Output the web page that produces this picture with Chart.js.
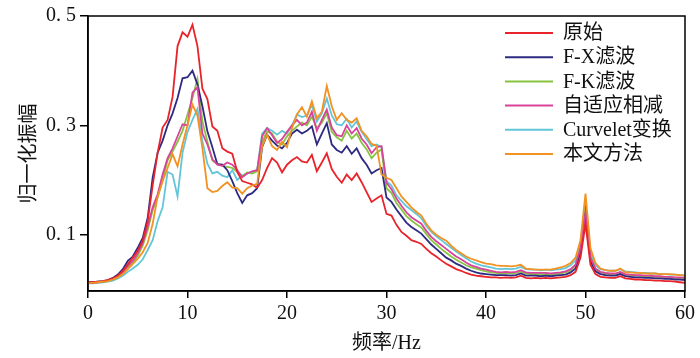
<!DOCTYPE html>
<html>
<head>
  <meta charset="utf-8">
  <title>归一化振幅谱</title>
  <script src="https://cdn.jsdelivr.net/npm/chart.js"></script>
  <style>
    body { margin: 0; background: #fff; }
    #wrap { width: 700px; height: 358px; }
  </style>
</head>
<body>

<div id="wrap"><canvas id="spec"></canvas></div>

<script>
  // frequency axis (Hz)
  const freq = [
    0, 0.5, 1, 1.5, 2, 2.5, 3, 3.5, 4, 4.5, 5, 5.5, 6, 6.5, 7, 7.5, 8, 8.5, 9, 9.5,
    10, 10.5, 11, 11.5, 12, 12.5, 13, 13.5, 14, 14.5, 15, 15.5, 16, 16.5, 17, 17.5, 18, 18.5, 19, 19.5,
    20, 20.5, 21, 21.5, 22, 22.5, 23, 23.5, 24, 24.5, 25, 25.5, 26, 26.5, 27, 27.5, 28, 28.5, 29, 29.5,
    30, 30.5, 31, 31.5, 32, 32.5, 33, 33.5, 34, 34.5, 35, 35.5, 36, 36.5, 37, 37.5, 38, 38.5, 39, 39.5,
    40, 40.5, 41, 41.5, 42, 42.5, 43, 43.5, 44, 44.5, 45, 45.5, 46, 46.5, 47, 47.5, 48, 48.5, 49, 49.5,
    50, 50.5, 51, 51.5, 52, 52.5, 53, 53.5, 54, 54.5, 55, 55.5, 56, 56.5, 57, 57.5, 58, 58.5, 59, 59.5,
    60
  ];

  const seriesNames = ['原始', 'F-X滤波', 'F-K滤波', '自适应相减', 'Curvelet变换', '本文方法'];

  const raw = [
    0.013, 0.013, 0.014, 0.015, 0.017, 0.020, 0.025, 0.034, 0.046, 0.058, 0.071, 0.089, 0.125, 0.190, 0.250, 0.296, 0.310, 0.352, 0.445, 0.470,
    0.462, 0.484, 0.445, 0.367, 0.348, 0.298, 0.290, 0.258, 0.252, 0.248, 0.215, 0.198, 0.195, 0.192, 0.186, 0.200, 0.222, 0.240, 0.232, 0.214,
    0.228, 0.236, 0.242, 0.234, 0.232, 0.246, 0.216, 0.232, 0.249, 0.220, 0.206, 0.195, 0.210, 0.200, 0.212, 0.196, 0.178, 0.160, 0.166, 0.172,
    0.138, 0.135, 0.118, 0.105, 0.098, 0.090, 0.087, 0.083, 0.074, 0.066, 0.060, 0.053, 0.047, 0.042, 0.037, 0.034, 0.030, 0.027, 0.025, 0.024,
    0.023, 0.022, 0.022, 0.021, 0.022, 0.021, 0.022, 0.025, 0.021, 0.020, 0.021, 0.020, 0.021, 0.020, 0.021, 0.022, 0.023, 0.026, 0.032, 0.058,
    0.120, 0.045, 0.028, 0.023, 0.022, 0.021, 0.021, 0.024, 0.020, 0.019, 0.018, 0.018, 0.017, 0.017, 0.016, 0.016, 0.015, 0.015, 0.014, 0.013,
    0.012
  ];

  const fx = [
    0.013, 0.013, 0.014, 0.015, 0.017, 0.021, 0.027, 0.037, 0.052, 0.060, 0.076, 0.094, 0.131, 0.205, 0.250, 0.272, 0.300, 0.322, 0.350, 0.386,
    0.388, 0.400, 0.375, 0.335, 0.289, 0.260, 0.229, 0.228, 0.218, 0.198, 0.176, 0.158, 0.172, 0.176, 0.185, 0.260, 0.283, 0.272, 0.263, 0.258,
    0.268, 0.285, 0.292, 0.285, 0.290, 0.298, 0.265, 0.285, 0.304, 0.265, 0.255, 0.250, 0.262, 0.248, 0.258, 0.240, 0.228, 0.212, 0.218, 0.222,
    0.168, 0.160, 0.146, 0.134, 0.122, 0.114, 0.108, 0.102, 0.092, 0.082, 0.074, 0.066, 0.058, 0.053, 0.047, 0.043, 0.038, 0.034, 0.031, 0.029,
    0.028, 0.027, 0.026, 0.026, 0.026, 0.025, 0.026, 0.029, 0.025, 0.025, 0.025, 0.024, 0.025, 0.024, 0.025, 0.026, 0.027, 0.031, 0.038, 0.068,
    0.140, 0.052, 0.033, 0.028, 0.026, 0.025, 0.025, 0.028, 0.024, 0.023, 0.022, 0.022, 0.021, 0.021, 0.020, 0.020, 0.019, 0.019, 0.018, 0.018,
    0.017
  ];

  const fk = [
    0.012, 0.012, 0.013, 0.014, 0.015, 0.018, 0.023, 0.030, 0.040, 0.048, 0.062, 0.080, 0.108, 0.145, 0.168, 0.200, 0.236, 0.252, 0.270, 0.290,
    0.320, 0.350, 0.385, 0.307, 0.270, 0.236, 0.230, 0.226, 0.224, 0.222, 0.215, 0.207, 0.214, 0.212, 0.216, 0.270, 0.289, 0.285, 0.270, 0.265,
    0.280, 0.290, 0.298, 0.305, 0.300, 0.316, 0.295, 0.305, 0.322, 0.288, 0.278, 0.272, 0.290, 0.276, 0.285, 0.268, 0.256, 0.240, 0.250, 0.256,
    0.185, 0.176, 0.158, 0.146, 0.134, 0.126, 0.119, 0.113, 0.101, 0.090, 0.082, 0.074, 0.067, 0.060, 0.054, 0.049, 0.044, 0.040, 0.038, 0.035,
    0.033, 0.031, 0.030, 0.029, 0.030, 0.029, 0.030, 0.033, 0.029, 0.028, 0.028, 0.028, 0.028, 0.027, 0.028, 0.029, 0.031, 0.035, 0.044, 0.078,
    0.155, 0.060, 0.037, 0.031, 0.029, 0.028, 0.028, 0.031, 0.027, 0.026, 0.025, 0.025, 0.024, 0.024, 0.023, 0.023, 0.022, 0.022, 0.021, 0.021,
    0.020
  ];

  const adaptive = [
    0.012, 0.012, 0.013, 0.014, 0.016, 0.019, 0.024, 0.032, 0.043, 0.052, 0.066, 0.085, 0.115, 0.150, 0.174, 0.210, 0.240, 0.258, 0.280, 0.302,
    0.300, 0.360, 0.370, 0.285, 0.265, 0.238, 0.228, 0.226, 0.232, 0.228, 0.218, 0.205, 0.212, 0.216, 0.218, 0.280, 0.295, 0.282, 0.268, 0.275,
    0.288, 0.300, 0.310, 0.300, 0.305, 0.325, 0.290, 0.310, 0.329, 0.296, 0.282, 0.280, 0.300, 0.285, 0.295, 0.276, 0.265, 0.249, 0.260, 0.262,
    0.195, 0.183, 0.166, 0.153, 0.141, 0.132, 0.126, 0.120, 0.107, 0.096, 0.088, 0.081, 0.074, 0.067, 0.060, 0.055, 0.049, 0.044, 0.041, 0.038,
    0.036, 0.034, 0.032, 0.031, 0.032, 0.031, 0.032, 0.035, 0.031, 0.030, 0.030, 0.030, 0.030, 0.029, 0.030, 0.031, 0.033, 0.037, 0.045, 0.075,
    0.140, 0.058, 0.038, 0.032, 0.030, 0.029, 0.029, 0.032, 0.028, 0.027, 0.026, 0.026, 0.025, 0.025, 0.024, 0.024, 0.023, 0.023, 0.022, 0.022,
    0.021
  ];

  const curvelet = [
    0.011, 0.011, 0.012, 0.013, 0.014, 0.016, 0.020, 0.025, 0.032, 0.038, 0.045, 0.055, 0.072, 0.090, 0.125, 0.150, 0.215, 0.210, 0.170, 0.250,
    0.288, 0.310, 0.330, 0.271, 0.230, 0.212, 0.215, 0.208, 0.205, 0.218, 0.200, 0.208, 0.212, 0.215, 0.218, 0.285, 0.295, 0.290, 0.283, 0.290,
    0.285, 0.300, 0.320, 0.315, 0.318, 0.338, 0.307, 0.322, 0.349, 0.318, 0.302, 0.300, 0.312, 0.296, 0.307, 0.288, 0.275, 0.262, 0.265, 0.260,
    0.198, 0.190, 0.172, 0.162, 0.152, 0.145, 0.138, 0.130, 0.116, 0.105, 0.097, 0.090, 0.083, 0.076, 0.069, 0.063, 0.057, 0.051, 0.047, 0.044,
    0.042, 0.040, 0.038, 0.037, 0.038, 0.037, 0.038, 0.041, 0.037, 0.036, 0.036, 0.035, 0.036, 0.035, 0.036, 0.037, 0.039, 0.044, 0.053, 0.085,
    0.160, 0.068, 0.044, 0.037, 0.035, 0.034, 0.034, 0.037, 0.033, 0.032, 0.031, 0.030, 0.030, 0.029, 0.029, 0.028, 0.028, 0.027, 0.027, 0.026,
    0.025
  ];

  const proposed = [
    0.012, 0.012, 0.013, 0.014, 0.015, 0.018, 0.022, 0.028, 0.037, 0.046, 0.056, 0.068, 0.085, 0.120, 0.170, 0.198, 0.222, 0.247, 0.225, 0.265,
    0.300, 0.338, 0.318, 0.258, 0.185, 0.178, 0.180, 0.189, 0.196, 0.186, 0.185, 0.175, 0.185, 0.190, 0.193, 0.262, 0.283, 0.262, 0.255, 0.270,
    0.260, 0.295, 0.320, 0.333, 0.316, 0.344, 0.313, 0.325, 0.372, 0.335, 0.310, 0.322, 0.310, 0.305, 0.313, 0.290, 0.280, 0.266, 0.263, 0.210,
    0.204, 0.200, 0.185, 0.170, 0.160, 0.150, 0.142, 0.135, 0.120, 0.108, 0.100, 0.094, 0.089, 0.080, 0.072, 0.066, 0.060, 0.056, 0.053, 0.050,
    0.047, 0.046, 0.044, 0.043, 0.043, 0.042, 0.043, 0.045, 0.038, 0.037, 0.036, 0.036, 0.036, 0.036, 0.038, 0.040, 0.043, 0.048, 0.058, 0.090,
    0.175, 0.075, 0.048, 0.038, 0.035, 0.034, 0.034, 0.038, 0.031, 0.031, 0.030, 0.030, 0.029, 0.029, 0.029, 0.028, 0.028, 0.028, 0.027, 0.026,
    0.025
  ];

  const yTickValues = [0.1, 0.3, 0.5];
  const yTickLabels = ['0. 1', '0. 3', '0. 5'];

  const colors = ['#e8232a', '#2e2a82', '#86c441', '#d8449a', '#62c6d8', '#f29222'];
  const allSeries = [raw, fx, fk, adaptive, curvelet, proposed];
  // draw order: orange on top, curvelet at the back
  const drawOrder = [1, 3, 4, 2, 5, 0];

  const serif = '"Liberation Serif", "Noto Sans CJK SC", serif';

  const frameAndLegend = {
    id: 'frameAndLegend',
    afterDraw(chart) {
      const { ctx, chartArea: a } = chart;
      ctx.save();
      ctx.strokeStyle = '#000';
      ctx.lineWidth = 1.5;
      ctx.strokeRect(a.left, a.top, a.right - a.left, a.bottom - a.top);

      ctx.font = '20px ' + serif;
      ctx.textBaseline = 'middle';
      ctx.fillStyle = '#111';
      seriesNames.forEach((name, i) => {
        const y = 33 + i * 24.2;
        ctx.strokeStyle = colors[i];
        ctx.lineWidth = 2;
        ctx.beginPath();
        ctx.moveTo(505, y);
        ctx.lineTo(553, y);
        ctx.stroke();
        ctx.fillText(name, 563, y + 1);
      });
      ctx.restore();
    }
  };

  const ctx = document.getElementById('spec').getContext('2d');
  const chart = new Chart(ctx, {
    type: 'line',
    data: {
      datasets: allSeries.map((s, i) => ({
        label: seriesNames[i],
        data: freq.map((f, k) => ({ x: f, y: s[k] })),
        borderColor: colors[i],
        borderWidth: 1.8,
        pointRadius: 0,
        tension: 0,
        fill: false,
        order: drawOrder[i]
      }))
    },
    options: {
      responsive: true,
      maintainAspectRatio: false,
      animation: false,
      layout: { padding: { top: 13, right: 15, left: 0, bottom: 0 } },
      plugins: {
        legend: { display: false },
        tooltip: { enabled: false }
      },
      scales: {
        x: {
          type: 'linear',
          min: 0,
          max: 60,
          afterFit: s => { s.height = 67; },
          ticks: { stepSize: 10, color: '#111', padding: 4, font: { family: serif, size: 20 } },
          grid: { drawOnChartArea: false, drawTicks: true, tickLength: 7, color: '#000', lineWidth: 1.5 },
          border: { display: true, color: '#000', width: 1.5 },
          title: { display: true, text: '频率/Hz', color: '#111', font: { family: serif, size: 20 }, padding: { top: 0, bottom: 2 } }
        },
        y: {
          min: -0.003,
          max: 0.5,
          afterFit: s => { s.width = 88; },
          afterBuildTicks: s => { s.ticks = yTickValues.map(v => ({ value: v })); },
          ticks: {
            color: '#111',
            padding: 4,
            font: { family: serif, size: 20 },
            callback: v => yTickLabels[yTickValues.indexOf(Math.round(v * 10) / 10)]
          },
          grid: { drawOnChartArea: false, drawTicks: true, tickLength: 8, color: '#000', lineWidth: 1.5 },
          border: { display: true, color: '#000', width: 1.5 },
          title: { display: true, text: '归一化振幅', color: '#111', font: { family: serif, size: 20 }, padding: { top: 18, bottom: 0 } }
        }
      }
    },
    plugins: [frameAndLegend]
  });
</script>

</body>
</html>
